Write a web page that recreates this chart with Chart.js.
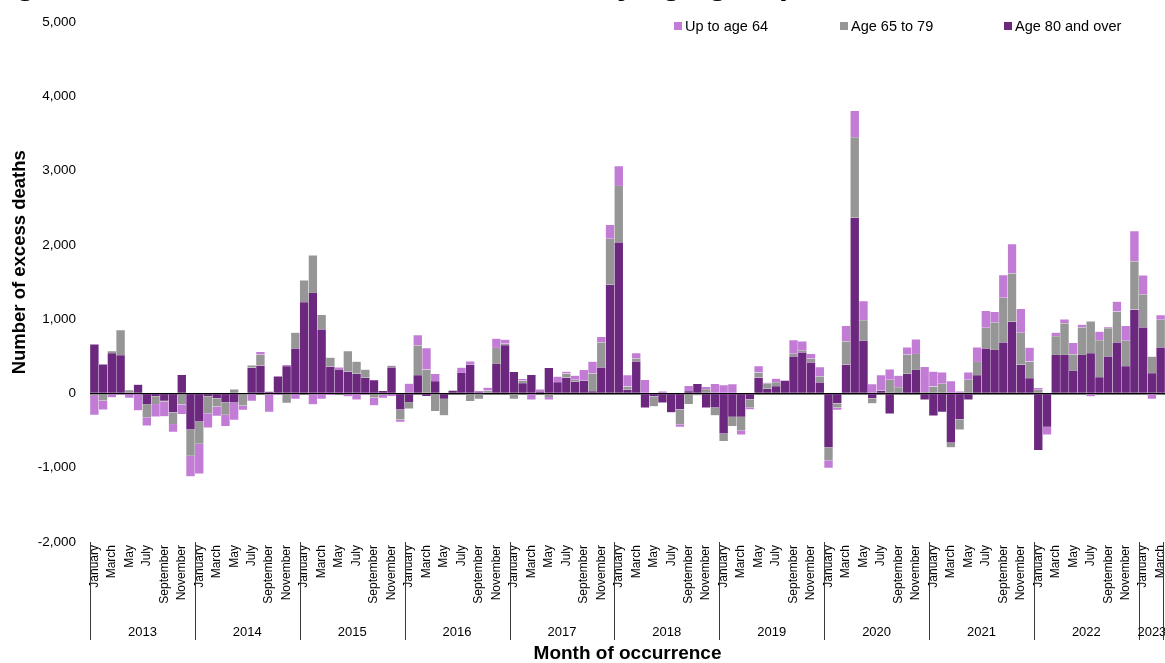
<!DOCTYPE html>
<html>
<head>
<meta charset="utf-8">
<script src="https://cdn.jsdelivr.net/npm/chart.js@4.4.1/dist/chart.umd.min.js"></script>
<style>
html,body{margin:0;padding:0;background:#fff;overflow:hidden;}
#wrap{position:relative;width:1165px;height:663px;overflow:hidden;font-family:"Liberation Sans",Arial,sans-serif;}
#title{position:absolute;left:-13px;top:-33px;font-weight:bold;font-size:32px;line-height:32px;white-space:nowrap;color:#000;}
#legend{position:absolute;top:0;left:0;width:1165px;height:40px;}
.li{position:absolute;top:17px;font-size:14.5px;line-height:18px;color:#000;white-space:nowrap;}
.sw{display:inline-block;width:8px;height:8px;margin-right:3px;vertical-align:1px;}
canvas{position:absolute;left:0;top:0;}
</style>
</head>
<body>
<div id="wrap">
  <canvas id="c" width="1165" height="663"></canvas>
  <div id="title">Figure 4: All excess deaths in Scotland, by age group</div>
  <div id="legend"></div>
</div>
<script>
// ---- categories ----
const monthNames = ['January','February','March','April','May','June','July','August','September','October','November','December'];
const years = ['2013','2014','2015','2016','2017','2018','2019','2020','2021','2022','2023'];
const monthsPerYear = [12,12,12,12,12,12,12,12,12,12,3];

// ---- series (number of excess deaths, Jan 2013 - Mar 2023) ----
const upTo64 = [
-270,-120,-55,-15,-50,-230,-112,-170,-200,-107,-130,-277,
-400,-192,-125,-150,-230,-58,-100,36,-240,-20,18,-72,
0,-148,-72,-20,25,-40,-85,-20,-103,-40,-36,-31,
134,139,290,98,0,0,72,45,31,40,125,54,
0,22,-85,27,-36,76,27,58,148,161,76,188,
268,152,72,183,0,27,0,-36,72,0,31,130,
112,125,-58,-27,85,10,49,5,183,125,63,125,
-103,-29,210,353,255,125,206,143,156,98,197,340,
201,156,165,27,103,197,228,143,308,393,322,188,
27,-103,45,54,152,36,-40,112,9,134,201,407,
259,-72,63];
const age65to79 = [
-20,-98,27,335,45,0,-179,-107,-10,-157,-148,-353,
-300,-232,-112,-170,55,-165,30,148,-10,0,-128,210,
295,505,197,121,0,277,165,112,-58,-20,22,-134,
-89,402,322,-237,-224,5,0,-103,-72,40,215,18,
-72,36,0,0,-49,0,54,27,0,237,335,621,
760,45,36,0,-134,0,0,-201,-143,-27,58,-103,
-103,-125,-179,-107,67,72,54,0,36,22,49,80,
-175,-56,313,1086,277,-67,0,183,75,259,215,18,
94,130,-63,-139,183,179,277,371,599,653,429,224,
49,0,255,425,224,371,425,501,380,416,344,648,
443,224,371];
const age80plus = [
660,393,545,518,-10,120,-143,-36,-100,-255,250,-487,
-380,-36,-67,-120,-125,0,350,375,25,230,368,608,
1229,1354,863,362,326,295,264,210,179,36,353,-219,
-116,246,-36,165,-72,36,277,389,5,0,398,653,
291,139,250,27,344,152,215,156,170,31,353,1462,
2034,49,434,-192,-40,-125,-255,-215,31,130,-192,-192,
-541,-317,-317,-80,215,63,98,170,500,554,420,150,
-725,-135,389,2365,711,-67,40,-273,10,264,317,-85,
-300,-250,-662,-349,-85,246,608,586,688,966,389,206,
-764,-451,519,519,304,519,545,219,501,688,367,1131,
890,273,621];

// ---- axis ----
const yMin = -2000, yMax = 5000, yStep = 1000;
const yTitle = 'Number of excess deaths';
const xTitle = 'Month of occurrence';

// build category labels and year per category
const labels = [], labelYear = [];
years.forEach((y, k) => {
  for (let m = 0; m < monthsPerYear[k]; m++) { labels.push(monthNames[m]); labelYear.push(y); }
});

const FONT = '"Liberation Sans", Arial, sans-serif';
Chart.defaults.font.family = FONT;
Chart.defaults.color = '#000';

const series = [
  {label:'Age 80 and over', data: age80plus, color:'#6C287E'},
  {label:'Age 65 to 79', data: age65to79, color:'#969696'},
  {label:'Up to age 64', data: upTo64, color:'#C27CD6'}
];

// HTML legend
const legendPos = [674, 840, 1004];
const leg = document.getElementById('legend');
series.slice().reverse().forEach((s, i) => {
  const d = document.createElement('div');
  d.className = 'li';
  d.style.left = legendPos[i] + 'px';
  d.innerHTML = '<span class="sw" style="background:' + s.color + '"></span>' + s.label;
  leg.appendChild(d);
});

const extras = {
  id: 'extras',
  afterDraw(chart) {
    const {ctx, chartArea, scales: {x}} = chart;
    const half = (x.getPixelForValue(1) - x.getPixelForValue(0)) / 2;
    ctx.save();
    ctx.strokeStyle = '#3a3a3a';
    ctx.lineWidth = 1;
    ctx.fillStyle = '#000';
    ctx.font = '13px ' + FONT;
    ctx.textAlign = 'center';
    ctx.textBaseline = 'middle';
    const top = chartArea.bottom, bot = chartArea.bottom + 98;
    let start = 0, lastX = 0;
    years.forEach((yr, k) => {
      const n = monthsPerYear[k];
      const x0 = x.getPixelForValue(start) - half;
      const x1 = x.getPixelForValue(start + n - 1) + half;
      const lx = Math.round(x0) + 0.5;
      ctx.beginPath(); ctx.moveTo(lx, top); ctx.lineTo(lx, bot); ctx.stroke();
      ctx.fillText(yr, (x0 + x1) / 2, chartArea.bottom + 90);
      start += n; lastX = x1;
    });
    const ex = Math.min(Math.round(lastX) - 0.5, chart.width - 1.5);
    ctx.beginPath(); ctx.moveTo(ex, top); ctx.lineTo(ex, bot); ctx.stroke();
    // axis titles
    ctx.font = 'bold 19px ' + FONT;
    ctx.fillText(xTitle, (chartArea.left + chartArea.right) / 2, 654);
    ctx.save();
    ctx.font = 'bold 18.5px ' + FONT;
    ctx.translate(20, chartArea.top + (chartArea.bottom - chartArea.top) * 0.462);
    ctx.rotate(-Math.PI / 2);
    ctx.fillText(yTitle, 0, 0);
    ctx.restore();
    ctx.restore();
  }
};

new Chart(document.getElementById('c'), {
  type: 'bar',
  data: {
    labels: labels,
    datasets: series.map(s => ({
      label: s.label, data: s.data, backgroundColor: s.color,
      borderColor: 'rgba(255,255,255,0.35)',
      borderWidth: 0.5, barPercentage: 1, categoryPercentage: 1
    }))
  },
  options: {
    responsive: false,
    animation: false,
    layout: {padding: {top: 20, right: 0, left: 0, bottom: 0}},
    plugins: {legend: {display: false}, tooltip: {enabled: false}, title: {display: false}},
    scales: {
      x: {
        stacked: true,
        grid: {display: false, drawTicks: false},
        border: {display: false},
        ticks: {
          autoSkip: false, maxRotation: 90, minRotation: 90, padding: 3,
          font: {size: 12},
          callback: function(v, i) { return i % 2 === 0 ? labels[i] : ''; }
        },
        afterFit(scale) { scale.height = 121; scale.paddingLeft = 0; scale.paddingRight = 0; }
      },
      y: {
        stacked: true,
        min: yMin, max: yMax,
        grid: {
          drawTicks: false,
          color: c => (c.tick && c.tick.value === 0) ? '#000' : 'rgba(0,0,0,0)',
          lineWidth: c => (c.tick && c.tick.value === 0) ? 1.6 : 0
        },
        border: {display: false},
        ticks: {
          stepSize: yStep, padding: 14, font: {size: 13.5},
          callback: v => v.toLocaleString('en-GB')
        },
        afterFit(scale) { scale.width = 90; }
      }
    }
  },
  plugins: [extras]
});
</script>
</body>
</html>
